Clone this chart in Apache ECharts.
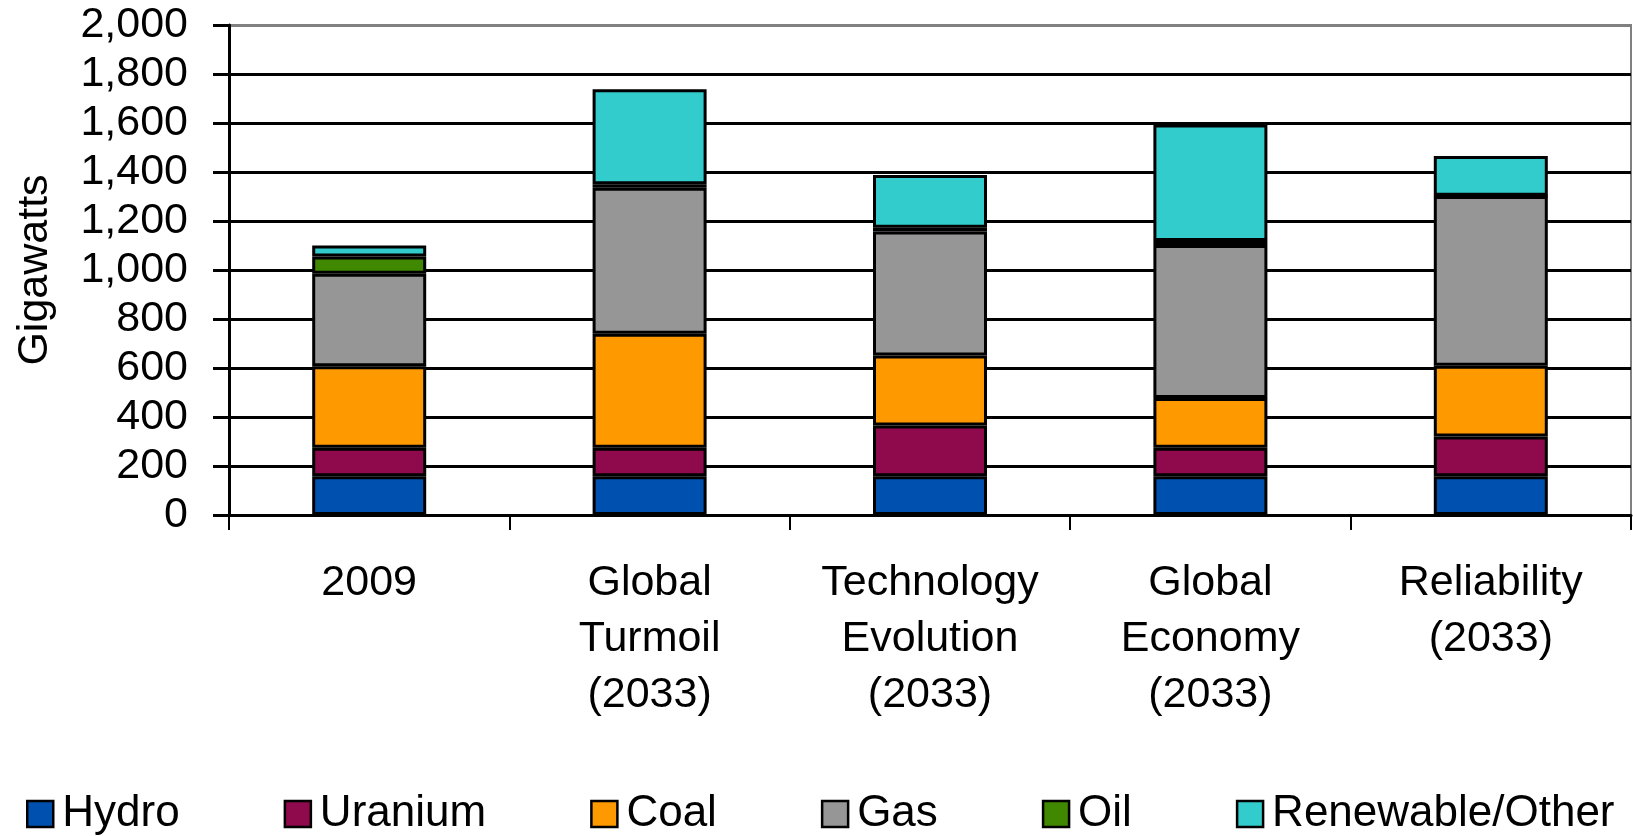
<!DOCTYPE html>
<html>
<head>
<meta charset="utf-8">
<script src="https://cdn.jsdelivr.net/npm/echarts@6/dist/echarts.min.js"></script>
<style>
  html, body { margin: 0; padding: 0; background: #fff; }
  #chart { width: 1633px; height: 836px; }
</style>
</head>
<body>
<div id="chart"></div>
<script>
const categories = ['2009', 'Global\nTurmoil\n(2033)', 'Technology\nEvolution\n(2033)', 'Global\nEconomy\n(2033)', 'Reliability\n(2033)']
const hydro = [158, 158, 158, 158, 158]
const uranium = [116, 117, 207, 117, 162]
const coal = [333, 465, 286, 203, 289]
const gas = [378, 596, 506, 624, 693]
const oil = [70, 14, 15, 16, 1]
const renewable = [45, 388, 216, 476, 162]

const seriesDefs = [
  { name: 'Hydro', data: hydro, color: '#0050B0' },
  { name: 'Uranium', data: uranium, color: '#8E0A4C' },
  { name: 'Coal', data: coal, color: '#FF9900' },
  { name: 'Gas', data: gas, color: '#969696' },
  { name: 'Oil', data: oil, color: '#408800' },
  { name: 'Renewable/Other', data: renewable, color: '#33CCCC' }
]

const font = 'Liberation Sans, Arial, sans-serif'
const chart = echarts.init(document.getElementById('chart'))

chart.setOption({
  animation: false,
  textStyle: { fontFamily: font },
  grid: {
    left: 229, right: 2, top: 25, bottom: 321,
    show: true, borderColor: '#808080', borderWidth: 2
  },
  legend: {
    left: 21,
    top: 787,
    itemWidth: 26,
    itemHeight: 26,
    itemGap: 104,
    icon: 'rect',
    itemStyle: { borderColor: '#000', borderWidth: 2.5 },
    textStyle: { fontSize: 44, color: '#000', fontFamily: font, padding: [0, 0, 0, 4] },
    data: seriesDefs.map(s => s.name)
  },
  xAxis: {
    type: 'category',
    data: categories,
    axisLine: { lineStyle: { color: '#000', width: 3 } },
    axisTick: { show: true, length: 15, lineStyle: { color: '#000', width: 2 } },
    axisLabel: { color: '#000', fontSize: 43, lineHeight: 56, margin: 40, interval: 0 }
  },
  yAxis: {
    type: 'value',
    min: 0,
    max: 2000,
    interval: 200,
    name: 'Gigawatts',
    nameLocation: 'middle',
    nameGap: 172,
    nameTextStyle: { fontSize: 43, color: '#000' },
    axisLine: { show: true, lineStyle: { color: '#000', width: 3 } },
    axisTick: { show: true, length: 16, lineStyle: { color: '#000', width: 3 } },
    axisLabel: {
      color: '#000', fontSize: 43, margin: 41,
      formatter: v => v.toLocaleString('en-US')
    },
    splitLine: {
      lineStyle: {
        color: ['#000', '#000', '#000', '#000', '#000', '#000', '#000', '#000', '#000', '#000', '#808080'],
        width: 3
      }
    }
  },
  series: seriesDefs.map(s => ({
    name: s.name,
    type: 'bar',
    stack: 'total',
    barWidth: 114,
    data: s.data,
    itemStyle: { color: s.color, borderColor: '#000', borderWidth: 3 }
  }))
})
</script>
</body>
</html>
